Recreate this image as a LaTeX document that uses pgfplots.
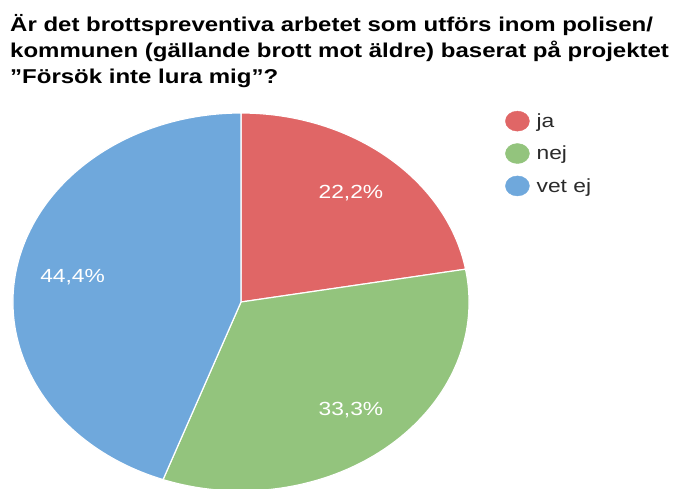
\documentclass[border=0pt]{standalone}
\usepackage{fontspec}
\setmainfont{Liberation Sans}[FakeStretch=1.2]
\usepackage{pgfplots}
\usepackage{pgfplotstable}
\pgfplotsset{compat=1.18}

\definecolor{jaC}{HTML}{E06666}
\definecolor{nejC}{HTML}{93C47D}
\definecolor{vetC}{HTML}{6FA8DC}
\definecolor{legtext}{HTML}{2A2A2A}

\pgfplotstableread{
label value
ja 22.2
nej 33.3
{vet ej} 44.4
}\piedata

\pgfplotstablegetelem{0}{value}\of\piedata \let\va\pgfplotsretval
\pgfplotstablegetelem{1}{value}\of\piedata \let\vb\pgfplotsretval
\pgfplotstablegetelem{2}{value}\of\piedata \let\vc\pgfplotsretval
\pgfmathsetmacro\total{\va+\vb+\vc}
% angles (TikZ convention, start at top, clockwise)
\pgfmathsetmacro\sA{90}
\pgfmathsetmacro\eA{\sA-\va/\total*360}
\pgfmathsetmacro\eB{\eA-\vb/\total*360}
\pgfmathsetmacro\eC{\eB-\vc/\total*360}
\pgfmathsetmacro\mA{(\sA+\eA)/2}
\pgfmathsetmacro\mB{(\eA+\eB)/2}
\pgfmathsetmacro\mC{(\eB+\eC)/2}
\pgfkeys{/pgf/number format/.cd, assume math mode=true, fixed, fixed zerofill, precision=1, use comma}

\begin{document}
\begin{tikzpicture}
\useasboundingbox (0,0) rectangle (674pt,488pt);
\begin{axis}[
  at={(241pt,186pt)}, anchor=center,
  scale only axis, width=456pt, height=378pt,
  xmin=-1, xmax=1, ymin=-1, ymax=1,
  hide axis, clip=false,
  legend style={at={(1.079,1.006)}, anchor=north west, draw=none, fill=none,
    inner sep=0pt, font=\fontsize{19}{22}\selectfont, text=legtext,
    row sep=12pt, nodes={inner xsep=7pt, inner ysep=0pt}},
  legend cell align=left,
  legend image code/.code={\fill (12pt,0pt) ellipse [x radius=12pt, y radius=10pt];},
]
\addlegendimage{jaC, fill=jaC}
\addlegendentry{ja}
\addlegendimage{nejC, fill=nejC}
\addlegendentry{nej}
\addlegendimage{vetC, fill=vetC}
\addlegendentry{vet ej}

\filldraw[fill=jaC, draw=white, line width=1.2pt, line join=round]
  (axis cs:0,0) -- ++(\sA:228pt and 189pt) arc[start angle=\sA, end angle=\eA, x radius=228pt, y radius=189pt] -- cycle;
\filldraw[fill=nejC, draw=white, line width=1.2pt, line join=round]
  (axis cs:0,0) -- ++(\eA:228pt and 189pt) arc[start angle=\eA, end angle=\eB, x radius=228pt, y radius=189pt] -- cycle;
\filldraw[fill=vetC, draw=white, line width=1.2pt, line join=round]
  (axis cs:0,0) -- ++(\eB:228pt and 189pt) arc[start angle=\eB, end angle=\eC, x radius=228pt, y radius=189pt] -- cycle;

\node[text=white, font=\fontsize{19}{22}\selectfont] at (axis cs:{0.75*cos(\mA)},{0.75*sin(\mA)})
  {\pgfmathprintnumber{\va}\%};
\node[text=white, font=\fontsize{19}{22}\selectfont] at (axis cs:{0.75*cos(\mB)},{0.75*sin(\mB)})
  {\pgfmathprintnumber{\vb}\%};
\node[text=white, font=\fontsize{19}{22}\selectfont] at (axis cs:{0.75*cos(\mC)},{0.75*sin(\mC)})
  {\pgfmathprintnumber{\vc}\%};
\end{axis}

\begin{scope}[every node/.style={anchor=base west, inner sep=0pt, font=\bfseries\fontsize{20}{24}\selectfont}]
\node at (10pt,456.5pt) {Är det brottspreventiva arbetet som utförs inom polisen/};
\node at (10pt,430.5pt) {kommunen (gällande brott mot äldre) baserat på projektet};
\node at (10pt,404.5pt) {”Försök inte lura mig”?};
\end{scope}
\end{tikzpicture}
\end{document}
